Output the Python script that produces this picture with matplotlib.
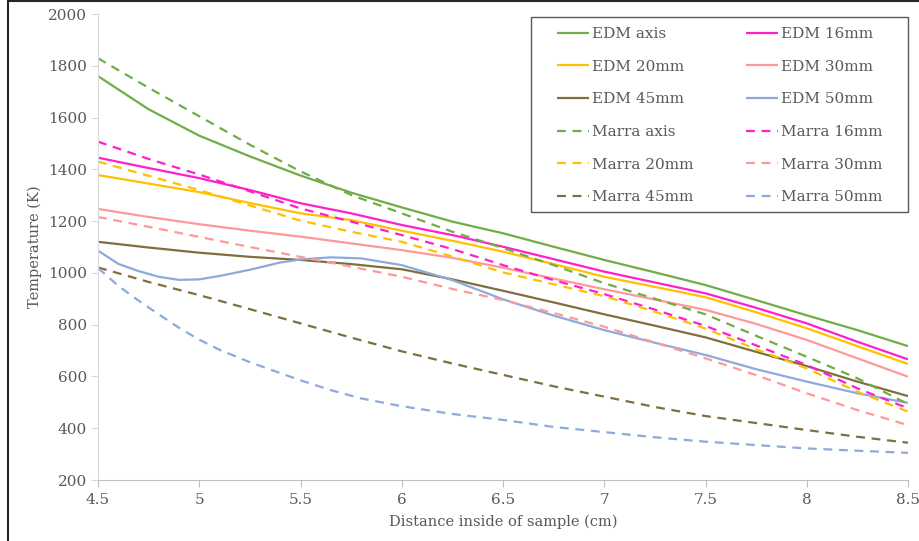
import matplotlib
matplotlib.use('Agg')
import matplotlib.pyplot as plt
from matplotlib.patches import Rectangle

# distance inside of sample (cm)
x = [4.5, 4.75, 5.0, 5.25, 5.5, 5.75, 6.0, 6.25, 6.5, 6.75, 7.0, 7.25, 7.5, 7.75, 8.0, 8.25, 8.5]
# the two 50mm curves are read at more points near the start
x_50 = [4.5, 4.6, 4.7, 4.8, 4.9, 5.0, 5.1, 5.25, 5.4, 5.5, 5.65, 5.8, 6.0, 6.25, 6.5,
        6.75, 7.0, 7.25, 7.5, 7.75, 8.0, 8.25, 8.5]

edm_axis = [1760, 1632, 1530, 1450, 1376, 1310, 1253, 1198, 1153, 1101, 1050, 1002, 953, 895, 836, 779, 717]
edm_16 = [1445, 1405, 1366, 1320, 1269, 1230, 1185, 1146, 1101, 1053, 1005, 963, 921, 865, 805, 734, 666]
edm_20 = [1378, 1345, 1312, 1270, 1230, 1204, 1163, 1124, 1082, 1034, 985, 946, 906, 848, 786, 717, 648]
edm_30 = [1247, 1216, 1188, 1163, 1140, 1114, 1088, 1058, 1020, 978, 937, 897, 857, 803, 741, 670, 599]
edm_45 = [1120, 1098, 1078, 1062, 1050, 1034, 1014, 975, 931, 886, 840, 796, 751, 695, 640, 580, 524]
edm_50 = [1086, 1035, 1007, 985, 973, 975, 988, 1012, 1040, 1052, 1060, 1056, 1030, 972, 898,
          835, 779, 730, 683, 628, 580, 535, 498]

marra_axis = [1829, 1715, 1605, 1495, 1392, 1301, 1230, 1159, 1096, 1030, 960, 900, 840, 757, 676, 593, 493]
marra_16 = [1507, 1440, 1380, 1315, 1249, 1198, 1146, 1092, 1030, 972, 918, 858, 795, 720, 644, 554, 477]
marra_20 = [1430, 1375, 1320, 1260, 1202, 1159, 1120, 1063, 1002, 956, 910, 850, 785, 705, 631, 541, 464]
marra_30 = [1216, 1178, 1139, 1100, 1062, 1024, 985, 938, 895, 845, 792, 731, 670, 605, 535, 470, 412]
marra_45 = [1021, 965, 914, 860, 805, 750, 697, 650, 606, 562, 522, 482, 447, 420, 393, 367, 344]
marra_50 = [1019, 950, 893, 840, 788, 742, 703, 655, 613, 585, 547, 515, 485, 455, 432,
            405, 385, 365, 348, 335, 322, 313, 305]

c_green = '#70AD47'
c_magenta = '#FF1FCC'
c_yellow = '#FFC000'
c_salmon = '#FF9999'
c_olive = '#7F6F3F'
c_blue = '#8EA9DB'
txt = '#595959'

plt.rcParams['font.family'] = ['DejaVu Serif']

fig = plt.figure(figsize=(9.2, 5.41), dpi=100)
ax = fig.add_axes([98 / 920, 1 - 480 / 541, 810 / 920, 466 / 541])

lw = 1.6
dash = (0, (4, 3))
series = [
    (x, edm_axis, c_green, '-', 'EDM axis'),
    (x, edm_16, c_magenta, '-', 'EDM 16mm'),
    (x, edm_20, c_yellow, '-', 'EDM 20mm'),
    (x, edm_30, c_salmon, '-', 'EDM 30mm'),
    (x, edm_45, c_olive, '-', 'EDM 45mm'),
    (x_50, edm_50, c_blue, '-', 'EDM 50mm'),
    (x, marra_axis, c_green, dash, 'Marra axis'),
    (x, marra_16, c_magenta, dash, 'Marra 16mm'),
    (x, marra_20, c_yellow, dash, 'Marra 20mm'),
    (x, marra_30, c_salmon, dash, 'Marra 30mm'),
    (x, marra_45, c_olive, dash, 'Marra 45mm'),
    (x_50, marra_50, c_blue, dash, 'Marra 50mm'),
]
lines = {}
for xs, ys, col, ls, name in series:
    ln, = ax.plot(xs, ys, color=col, linestyle=ls, linewidth=lw, label=name,
                  solid_capstyle='butt', dash_capstyle='butt')
    lines[name] = ln

ax.set_xlim(4.5, 8.5)
ax.set_ylim(200, 2000)
ax.set_xticks([4.5, 5, 5.5, 6, 6.5, 7, 7.5, 8, 8.5])
ax.set_xticklabels(['4.5', '5', '5.5', '6', '6.5', '7', '7.5', '8', '8.5'])
ax.set_yticks(range(200, 2001, 200))

for s in ['top', 'right']:
    ax.spines[s].set_visible(False)
ax.spines['left'].set_color('#D9D9D9')
ax.spines['bottom'].set_color('#BFBFBF')
ax.tick_params(axis='x', colors=txt, labelsize=11, length=5, color='#BFBFBF', pad=4)
ax.tick_params(axis='y', colors=txt, labelsize=11, length=5, color='#D9D9D9', pad=3)

ax.set_xlabel('Distance inside of sample (cm)', color=txt, fontsize=10.5, labelpad=6)
ax.set_ylabel('Temperature (K)', color=txt, fontsize=10.5, labelpad=4)

# legend fills row by row in the reference
order = ['EDM axis', 'EDM 20mm', 'EDM 45mm', 'Marra axis', 'Marra 20mm', 'Marra 45mm',
         'EDM 16mm', 'EDM 30mm', 'EDM 50mm', 'Marra 16mm', 'Marra 30mm', 'Marra 50mm']
leg = fig.legend([lines[n] for n in order], order, ncol=2, loc='upper left',
                 bbox_to_anchor=(557 / 920, 1 - 27 / 541), bbox_transform=fig.transFigure,
                 borderaxespad=0, borderpad=0, fontsize=11, frameon=False,
                 handlelength=2.1, handletextpad=0.2, columnspacing=3.4,
                 labelspacing=1.22)
for t in leg.get_texts():
    t.set_color(txt)

# legend box
fig.patches.append(Rectangle((531 / 920, 1 - 212 / 541), 377 / 920, 195 / 541,
                             transform=fig.transFigure, fill=False,
                             edgecolor='#595959', linewidth=1.0))

# outer chart frame
fig.patches.append(Rectangle((8 / 920, -0.1), 1.2, 1.1 - 1.5 / 541, transform=fig.transFigure,
                             fill=False, edgecolor='#262626', linewidth=1.5, clip_on=False))

fig.savefig('out.png', dpi=100)
